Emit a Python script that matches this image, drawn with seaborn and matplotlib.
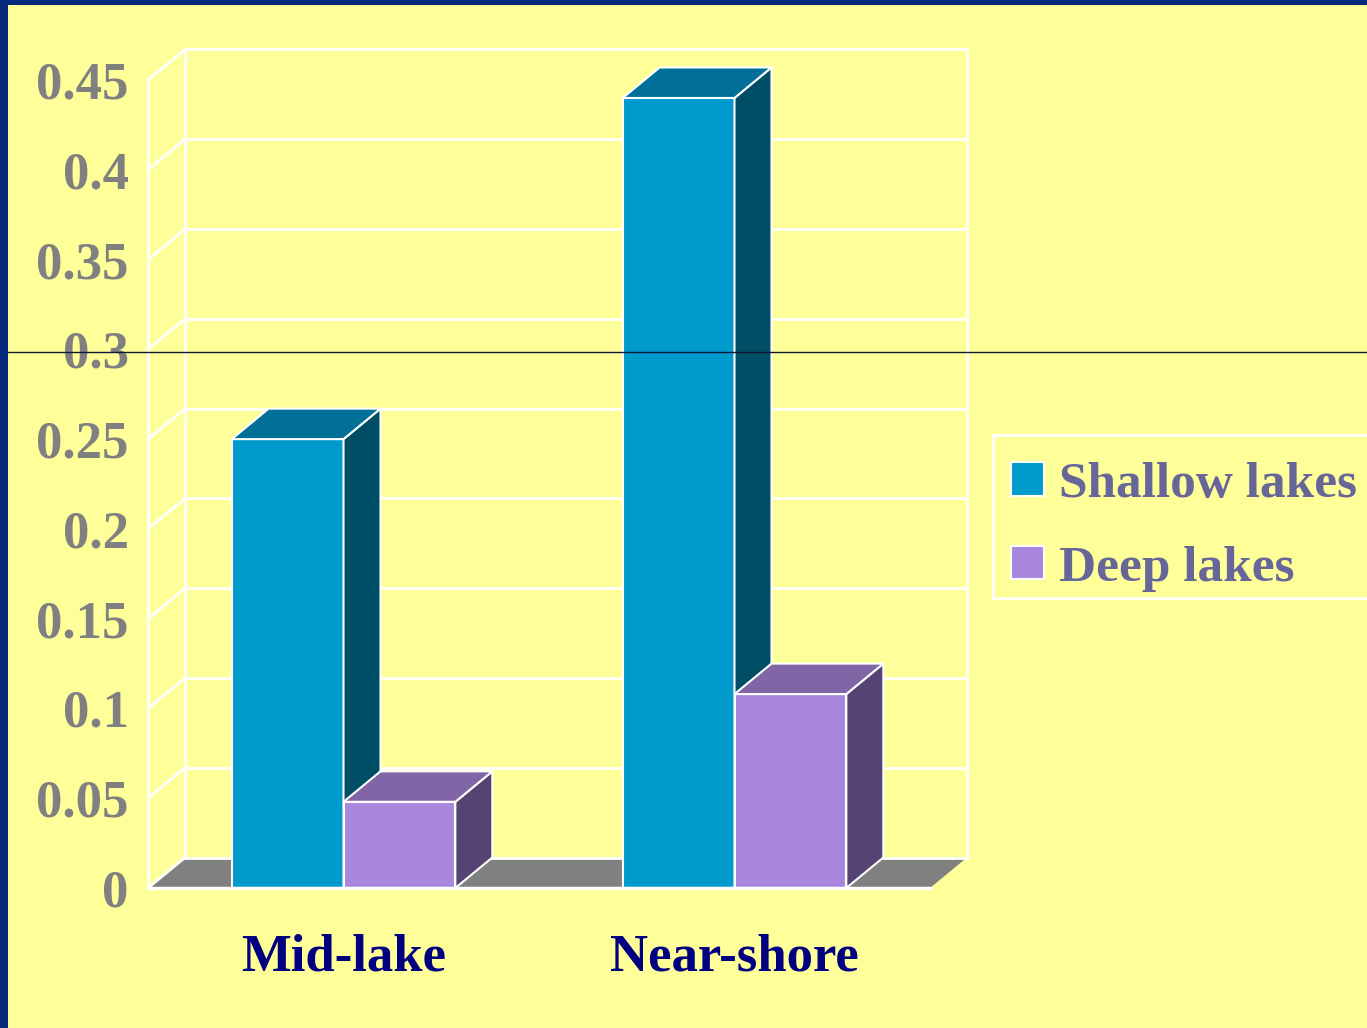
import numpy as np
import pandas as pd
import matplotlib
matplotlib.use("Agg")
import matplotlib.pyplot as plt
import seaborn as sns
from matplotlib.patches import Polygon, Rectangle
from matplotlib.lines import Line2D

categories = ["Mid-lake", "Near-shore"]
series_names = ["Shallow lakes", "Deep lakes"]
shallow = [0.25, 0.44]
deep = [0.048, 0.108]
ytick_values = [0, 0.05, 0.1, 0.15, 0.2, 0.25, 0.3, 0.35, 0.4, 0.45]
ytick_labels = ["0", "0.05", "0.1", "0.15", "0.2", "0.25", "0.3", "0.35", "0.4", "0.45"]

df = pd.DataFrame({
    "cat": categories * 2,
    "series": [series_names[0]] * 2 + [series_names[1]] * 2,
    "value": shallow + deep,
})

YELLOW = "#FFFF99"
front_cols = {"Shallow lakes": "#009ACD", "Deep lakes": "#A886DE"}
top_cols = {"Shallow lakes": "#007099", "Deep lakes": "#8066A6"}
side_cols = {"Shallow lakes": "#004D66", "Deep lakes": "#554473"}

sns.set_theme(style="white")
plt.rcParams["font.family"] = ["Liberation Serif", "DejaVu Serif"]
plt.rcParams["font.weight"] = "bold"

W, H = 1367, 1028
fig = plt.figure(figsize=(W / 100, H / 100), dpi=100)
fig.patch.set_facecolor("#062B7E")
fig.add_artist(Rectangle((8 / W, 0), 1 - 8 / W, (H - 5) / H, transform=fig.transFigure,
                         facecolor=YELLOW, edgecolor="none", zorder=-2))
# legend frame (extends past the right edge like the reference)
fig.add_artist(Rectangle((993 / W, (H - 598) / H), (W + 20 - 993) / W, (598 - 435) / H,
                         transform=fig.transFigure, facecolor=YELLOW, edgecolor="white",
                         lw=2, zorder=-1, clip_on=False))

left, right, top, bottom = 148, 968, 49, 888
ax = fig.add_axes([left / W, (H - bottom) / H, (right - left) / W, (bottom - top) / H])
ax.set_facecolor("none")
ax.set_zorder(1)

sns.barplot(data=df, x="cat", y="value", hue="series", palette=front_cols,
            width=0.572, ax=ax, edgecolor="white", linewidth=1.5, saturation=1,
            legend=True)

px_per_x = 391.0
px_per_y = 808.0 / 0.45
ax.set_xlim(-0.5, 1.5 + 38 / px_per_x)
ax.set_ylim(0, 0.45 + 31 / px_per_y)
DX = 37 / px_per_x
DY = 30.5 / px_per_y

# floor
ax.add_patch(Polygon([(-0.5, 0), (-0.5 + DX, DY), (1.5 + DX, DY), (1.5, 0)], closed=True,
                     facecolor="#808080", edgecolor="none", zorder=1, clip_on=False))
# back wall grid
for v in ytick_values:
    ax.plot([-0.5 + DX, 1.5 + DX], [v + DY, v + DY], color="white", lw=2, zorder=1.5, clip_on=False)
    ax.plot([-0.5, -0.5 + DX], [v, v + DY], color="white", lw=2, zorder=1.5, clip_on=False)
for xv in [-0.5 + DX, 1.5 + DX]:
    ax.plot([xv, xv], [DY, 0.45 + DY], color="white", lw=2, zorder=1.5, clip_on=False)

# 3D faces for bars
for i, cont in enumerate(ax.containers):
    name = series_names[i]
    for bar in cont:
        x0 = bar.get_x()
        x1 = x0 + bar.get_width()
        h = bar.get_height()
        z = 3 + 2 * i
        bar.set_zorder(z)
        top_poly = Polygon([(x0, h), (x0 + DX, h + DY), (x1 + DX, h + DY), (x1, h)], closed=True,
                           facecolor=top_cols[name], edgecolor="white", lw=1.5, zorder=z + 0.5,
                           clip_on=False, joinstyle="round")
        side_poly = Polygon([(x1, 0), (x1, h), (x1 + DX, h + DY), (x1 + DX, DY)], closed=True,
                            facecolor=side_cols[name], edgecolor="white", lw=1.5, zorder=z + 0.5,
                            clip_on=False, joinstyle="round")
        ax.add_patch(side_poly)
        ax.add_patch(top_poly)

for s in ["top", "right"]:
    ax.spines[s].set_visible(False)
ax.spines["left"].set_color("white")
ax.spines["left"].set_linewidth(2)
ax.spines["left"].set_bounds(0, 0.45)
ax.spines["bottom"].set_color("white")
ax.spines["bottom"].set_linewidth(2.5)
ax.spines["bottom"].set_bounds(-0.5, 1.5)
ax.spines["left"].set_zorder(10)
ax.spines["bottom"].set_zorder(10)

ax.set_yticks(ytick_values)
ax.set_yticklabels(ytick_labels)
ax.tick_params(axis="y", colors="white", length=8, width=2, pad=6, labelsize=38,
               labelcolor="#808080")
ax.set_xticks([0, 1])
ax.set_xticklabels(categories)
ax.set_xticks([-0.5, 0.5, 1.5], minor=True)
ax.tick_params(axis="x", which="major", length=0, pad=33, labelsize=38, labelcolor="#000080")
ax.tick_params(axis="x", which="minor", length=11, width=2, colors="white", direction="out")
for lab in ax.get_xticklabels() + ax.get_yticklabels():
    lab.set_fontweight("bold")
ax.set_xlabel("")
ax.set_ylabel("")

leg = ax.legend(loc="center left", bbox_to_anchor=(1011 / W, (H - 527) / H),
                bbox_transform=fig.transFigure, frameon=False,
                fontsize=37, handlelength=0.64, handleheight=0.64, handletextpad=0.3,
                labelspacing=0.72, borderpad=0, borderaxespad=0)
for t in leg.get_texts():
    t.set_color("#666699")
    t.set_fontweight("bold")
for hnd in leg.legend_handles:
    hnd.set_edgecolor("white")
    hnd.set_linewidth(1.5)

fig.add_artist(Line2D([8 / W, 1], [(H - 352) / H, (H - 352) / H], transform=fig.transFigure,
                      color="#101838", lw=1, zorder=20))

fig.savefig("out.png", dpi=100, facecolor=fig.get_facecolor())
